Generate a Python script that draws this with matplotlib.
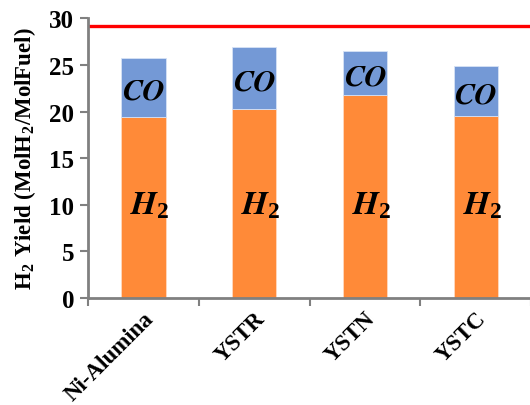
import matplotlib
matplotlib.use("Agg")
import matplotlib.pyplot as plt
import numpy as np

plt.rcParams["font.family"] = ["Liberation Serif", "DejaVu Serif"]
plt.rcParams["font.weight"] = "bold"
plt.rcParams["mathtext.fontset"] = "custom"
plt.rcParams["mathtext.rm"] = "Liberation Serif:weight=bold"
plt.rcParams["mathtext.bf"] = "Liberation Serif:weight=bold"
plt.rcParams["mathtext.it"] = "STIXGeneral:style=italic:weight=bold"

catalysts = ["Ni-Alumina", "YSTR", "YSTN", "YSTC"]
h2_yield = [19.4, 20.3, 21.8, 19.5]
co_yield = [6.35, 6.6, 4.7, 5.4]
max_yield = 29.2

orange = "#FF8A38"
blue = "#7499D6"
grey = "#808080"

fig = plt.figure(figsize=(5.3, 4.06), dpi=100)
ax = fig.add_axes([0.166, 0.2635, 0.836, 0.689])

x = np.arange(len(catalysts))
ax.bar(x, h2_yield, width=0.4, color=orange, edgecolor="#FFD9BF", linewidth=0.6)
ax.bar(x, co_yield, width=0.4, bottom=h2_yield, color=blue, edgecolor="#D6E2F5", linewidth=0.6)
ax.axhline(max_yield, color="#FF0000", lw=2.4)

for i in range(len(catalysts)):
    ax.text(x[i], h2_yield[i] + co_yield[i] / 2 - 0.4, "CO", ha="center", va="center",
            fontsize=22, family="STIXGeneral", fontstyle="italic", fontweight="bold")
    ax.text(x[i] + 0.06, 10.0, r"$H_2$", ha="center", va="center", fontsize=24)

ax.set_xlim(-0.5, len(catalysts) - 0.5)
ax.set_ylim(0, 30)
ax.set_yticks([0, 5, 10, 15, 20, 25, 30])
ax.set_xticks(np.arange(len(catalysts) + 1) - 0.5, minor=False)
ax.set_xticklabels([])
ax.set_xticks(x, minor=True)
ax.set_xticklabels(catalysts, minor=True, rotation=45, ha="right", rotation_mode="anchor", fontsize=16.5, fontweight="bold")
ax.tick_params(axis="x", which="minor", length=0, pad=7)
ax.tick_params(axis="x", which="major", length=6, width=1.5, color=grey, direction="out")
ax.tick_params(axis="y", length=6, width=1.5, color=grey, labelsize=18, pad=4)
for t in ax.get_yticklabels():
    t.set_fontweight("bold")

for s in ["top", "right"]:
    ax.spines[s].set_visible(False)
for s in ["left", "bottom"]:
    ax.spines[s].set_color(grey)
    ax.spines[s].set_linewidth(2)

ax.set_ylabel(r"H$_2$ Yield (MolH$_2$/MolFuel)", fontsize=16.5, fontweight="bold", labelpad=8)

fig.savefig("out.png", dpi=100)
